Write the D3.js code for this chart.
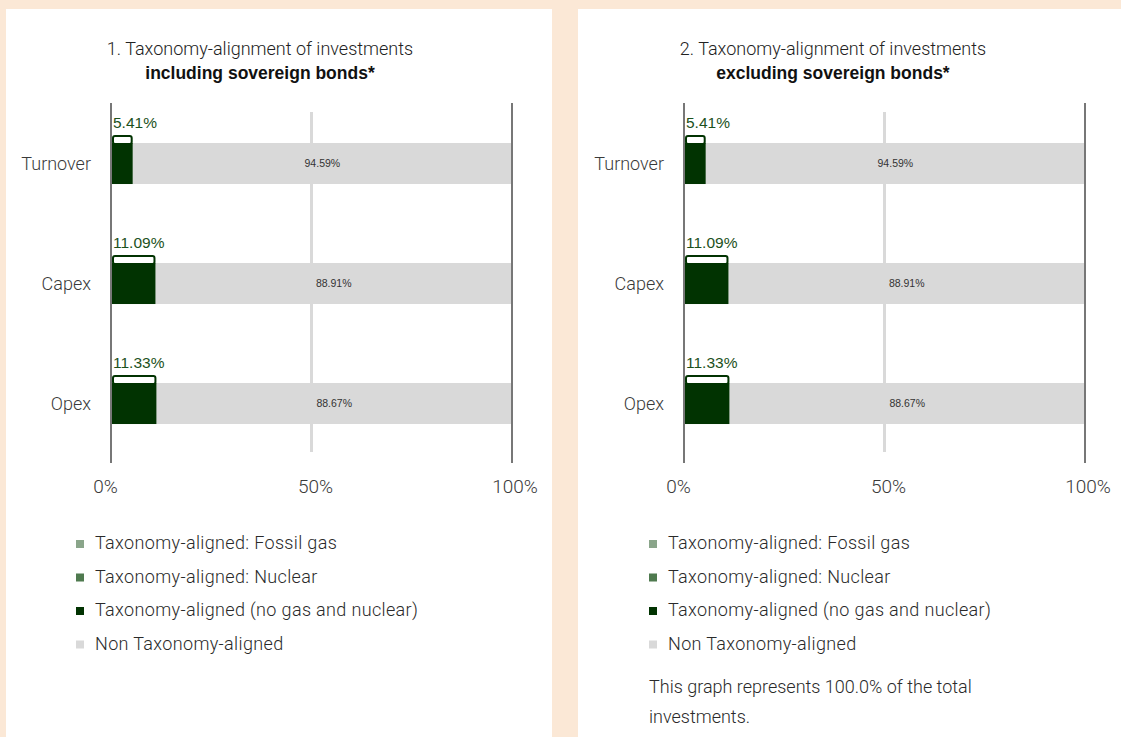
<!DOCTYPE html>
<html>
<head>
<meta charset="utf-8">
<script src="https://cdn.jsdelivr.net/npm/d3@7"></script>
<style>
  html, body { margin: 0; padding: 0; background: #fbe8d6; }
  svg { display: block; }
</style>
</head>
<body>
<svg id="chart" width="1121" height="737"></svg>
<script>
// KPI categories and values (percent of investments)
const categories = ["Turnover", "Capex", "Opex"];

// Panel 1: including sovereign bonds
const inclFossilGas  = [0, 0, 0];
const inclNuclear    = [0, 0, 0];
const inclAligned    = [5.41, 11.09, 11.33];
const inclNonAligned = [94.59, 88.91, 88.67];

// Panel 2: excluding sovereign bonds
const exclFossilGas  = [0, 0, 0];
const exclNuclear    = [0, 0, 0];
const exclAligned    = [5.41, 11.09, 11.33];
const exclNonAligned = [94.59, 88.91, 88.67];

const xTicks = [0, 50, 100];
const tickLabels = ["0%", "50%", "100%"];

const legendLabels = [
  "Taxonomy-aligned: Fossil gas",
  "Taxonomy-aligned: Nuclear",
  "Taxonomy-aligned (no gas and nuclear)",
  "Non Taxonomy-aligned"
];
const legendColors = ["#8aa58a", "#4f7a4f", "#013301", "#d9d9d9"];

const fmt = v => v.toFixed(2) + "%";
const svg = d3.select("#chart");

const LIGHT = "Roboto, 'Liberation Sans', sans-serif";
const ARIAL = "'Liberation Sans', Arial, sans-serif";

function drawPanel(opts) {
  const { px, pw, dx, title1, title2, fossil, nuclear, aligned, non, note } = opts;

  // white card
  svg.append("rect").attr("x", px).attr("y", 9).attr("width", pw).attr("height", 737 - 9).attr("fill", "#ffffff");

  const g = svg.append("g").attr("transform", `translate(${dx},0)`);

  const x = d3.scaleLinear().domain([0, 100]).range([111, 512]);
  const y = d3.scaleBand().domain(categories).range([103.5, 463.5])
    .paddingInner(0.658).paddingOuter(0.329);

  // title
  g.append("text").attr("x", 260).attr("y", 55).attr("text-anchor", "middle")
    .attr("font-family", LIGHT).attr("font-weight", 300).attr("font-size", 18)
    .attr("fill", "#222").text(title1);
  g.append("text").attr("x", 260).attr("y", 79).attr("text-anchor", "middle")
    .attr("font-family", ARIAL).attr("font-weight", 700).attr("font-size", 17.5)
    .attr("fill", "#111").text(title2);

  // 50% gridline
  g.append("line").attr("x1", x(50)).attr("x2", x(50)).attr("y1", 112).attr("y2", 452)
    .attr("stroke", "#d9d9d9").attr("stroke-width", 3);

  const rows = categories.map((c, i) => ({
    c, fossil: fossil[i], nuclear: nuclear[i], aligned: aligned[i], non: non[i]
  }));

  // non-aligned (grey) segment
  g.selectAll("rect.non").data(rows).join("rect").attr("class", "non")
    .attr("x", d => x(d.fossil + d.nuclear + d.aligned))
    .attr("width", d => x(d.fossil + d.nuclear + d.aligned + d.non) - x(d.fossil + d.nuclear + d.aligned))
    .attr("y", d => y(d.c)).attr("height", y.bandwidth())
    .attr("fill", "#d9d9d9");

  // fossil gas and nuclear segments
  g.selectAll("rect.fossil").data(rows).join("rect").attr("class", "fossil")
    .attr("x", x(0)).attr("width", d => x(d.fossil) - x(0))
    .attr("y", d => y(d.c)).attr("height", y.bandwidth()).attr("fill", legendColors[0]);
  g.selectAll("rect.nuclear").data(rows).join("rect").attr("class", "nuclear")
    .attr("x", d => x(d.fossil)).attr("width", d => x(d.fossil + d.nuclear) - x(d.fossil))
    .attr("y", d => y(d.c)).attr("height", y.bandwidth()).attr("fill", legendColors[1]);

  // aligned (dark green) segment
  g.selectAll("rect.aligned").data(rows).join("rect").attr("class", "aligned")
    .attr("x", d => x(d.fossil + d.nuclear))
    .attr("width", d => x(d.fossil + d.nuclear + d.aligned) - x(d.fossil + d.nuclear))
    .attr("y", d => y(d.c)).attr("height", y.bandwidth())
    .attr("fill", "#013301");

  // outlined cap above the aligned total
  g.selectAll("rect.cap").data(rows).join("rect").attr("class", "cap")
    .attr("x", x(0) + 2)
    .attr("width", d => x(d.fossil + d.nuclear + d.aligned) - x(0) - 3)
    .attr("y", d => y(d.c) - 7).attr("height", 8)
    .attr("rx", 2).attr("ry", 2)
    .attr("fill", "#ffffff").attr("stroke", "#013301").attr("stroke-width", 2);

  // aligned total label
  g.selectAll("text.tot").data(rows).join("text").attr("class", "tot")
    .attr("x", x(0) + 2).attr("y", d => y(d.c) - 15)
    .attr("font-family", ARIAL).attr("font-size", 15.5).attr("fill", "#1c511c")
    .text(d => fmt(d.fossil + d.nuclear + d.aligned));

  // non-aligned label
  g.selectAll("text.nonlbl").data(rows).join("text").attr("class", "nonlbl")
    .attr("x", d => (x(d.fossil + d.nuclear + d.aligned) + x(d.fossil + d.nuclear + d.aligned + d.non)) / 2)
    .attr("y", d => y(d.c) + y.bandwidth() / 2 + 3.5)
    .attr("text-anchor", "middle")
    .attr("font-family", ARIAL).attr("font-size", 10.5).attr("fill", "#333")
    .text(d => fmt(d.non));

  // category labels
  g.selectAll("text.cat").data(categories).join("text").attr("class", "cat")
    .attr("x", 91).attr("y", d => y(d) + y.bandwidth() / 2 + 6)
    .attr("text-anchor", "end")
    .attr("font-family", LIGHT).attr("font-weight", 300).attr("font-size", 18)
    .attr("fill", "#3a3a3a").text(d => d);

  // frame lines at 0% and 100%
  g.selectAll("line.frame").data([0, 100]).join("line").attr("class", "frame")
    .attr("x1", d => x(d)).attr("x2", d => x(d)).attr("y1", 103).attr("y2", 463)
    .attr("stroke", "#777").attr("stroke-width", 2);

  // x-axis labels
  const tickShift = [-6, 3.5, 2.5];
  const axis = d3.axisBottom(x).tickValues(xTicks).tickFormat((d, i) => tickLabels[i]).tickSize(0).tickPadding(0);
  const ag = g.append("g").attr("transform", "translate(0,493)").call(axis);
  ag.select(".domain").remove();
  ag.selectAll("text").attr("font-family", LIGHT).attr("font-weight", 300)
    .attr("font-size", 19).attr("fill", "#3a3a3a")
    .attr("y", 0).attr("dy", 0)
    .attr("dx", (d, i) => tickShift[i]);

  // legend
  const lg = g.selectAll("g.leg").data(legendLabels).join("g").attr("class", "leg")
    .attr("transform", (d, i) => `translate(76,${549 + i * 33.5})`);
  lg.append("rect").attr("x", 0).attr("y", -9).attr("width", 8).attr("height", 8)
    .attr("fill", (d, i) => legendColors[i]);
  lg.append("text").attr("x", 19).attr("y", 0)
    .attr("font-family", LIGHT).attr("font-weight", 300).attr("font-size", 18)
    .attr("letter-spacing", 0.35)
    .attr("fill", "#2a2a2a").text(d => d);

  if (note) {
    g.selectAll("text.note").data(note).join("text").attr("class", "note")
      .attr("x", 76).attr("y", (d, i) => 693 + i * 30)
      .attr("font-family", LIGHT).attr("font-weight", 300).attr("font-size", 18)
      .attr("fill", "#2a2a2a").text(d => d);
  }
}

drawPanel({
  px: 6, pw: 546, dx: 0,
  title1: "1. Taxonomy-alignment of investments",
  title2: "including sovereign bonds*",
  fossil: inclFossilGas, nuclear: inclNuclear, aligned: inclAligned, non: inclNonAligned
});

drawPanel({
  px: 578, pw: 543, dx: 573,
  title1: "2. Taxonomy-alignment of investments",
  title2: "excluding sovereign bonds*",
  fossil: exclFossilGas, nuclear: exclNuclear, aligned: exclAligned, non: exclNonAligned,
  note: ["This graph represents 100.0% of the total", "investments."]
});
</script>
</body>
</html>
